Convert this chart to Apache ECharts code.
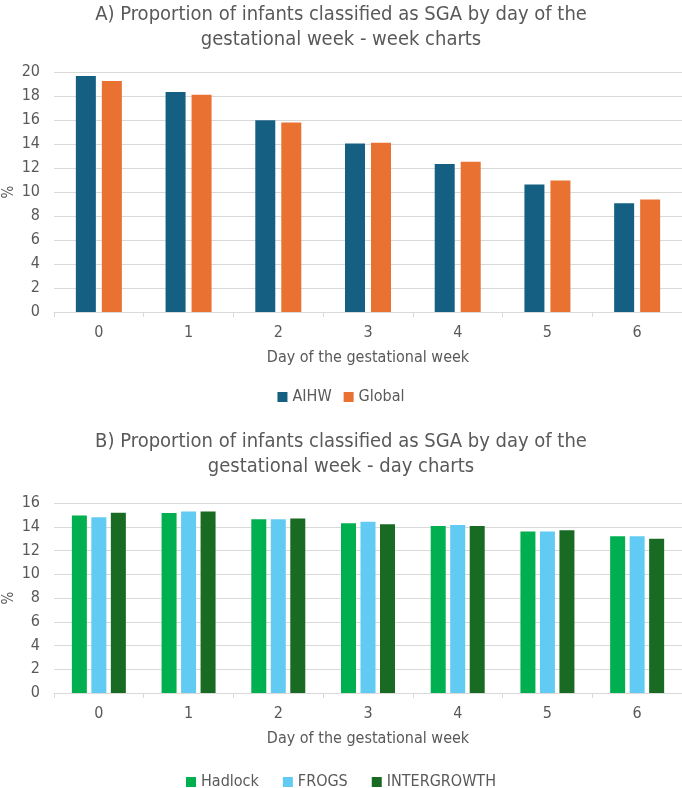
<!DOCTYPE html>
<html>
<head>
<meta charset="utf-8">
<script src="https://cdn.jsdelivr.net/npm/echarts@6/dist/echarts.min.js"></script>
<style>
  html, body { margin: 0; padding: 0; background: #fff; }
  #chart { width: 682px; height: 788px; }
</style>
</head>
<body>
<div id="chart"></div>
<script>
// data
const days = ['0', '1', '2', '3', '4', '5', '6'];

const aihw   = [19.66, 18.34, 15.97, 14.04, 12.33, 10.62, 9.07];
const global = [19.24, 18.10, 15.79, 14.10, 12.52, 10.96, 9.38];

const hadlock     = [14.95, 15.15, 14.64, 14.29, 14.07, 13.61, 13.21];
const frogs       = [14.81, 15.29, 14.64, 14.43, 14.15, 13.61, 13.21];
const intergrowth = [15.18, 15.28, 14.69, 14.21, 14.07, 13.70, 12.98];

const FONT = '"Liberation Sans Narrow", "DejaVu Sans Condensed", "Liberation Sans", sans-serif';
const TXT = '#595959';
const GRID = '#d9d9d9';

function xAxisFor(idx){
    return {
        type: 'category', gridIndex: idx, data: days,
        name: 'Day of the gestational week', nameLocation: 'middle', nameGap: 38,
        nameMoveOverlap: false,
        nameTextStyle: { color: TXT, fontFamily: FONT, fontSize: 16 },
        axisLine: { lineStyle: { color: GRID } },
        axisTick: { show: true, length: 5, lineStyle: { color: GRID } },
        axisLabel: { color: TXT, fontFamily: FONT, fontSize: 16, margin: 13 }
    };
}

function yAxisFor(idx, max){
    return {
        type: 'value', gridIndex: idx, min: 0, max: max, interval: 2,
        name: '%', nameLocation: 'middle', nameGap: 37, nameRotate: 90,
        nameMoveOverlap: false,
        nameTextStyle: { color: TXT, fontFamily: FONT, fontSize: 15 },
        axisLine: { show: false }, axisTick: { show: false },
        axisLabel: { color: TXT, fontFamily: FONT, fontSize: 16, margin: 14 },
        splitLine: { lineStyle: { color: GRID } }
    };
}

let chart = echarts.init(document.getElementById('chart'));

let option = {
    backgroundColor: '#fff',
    animation: false,
    title: [
        {
            text: 'A) Proportion of infants classified as SGA by day of the\ngestational week - week charts',
            left: 336, top: -3, textAlign: 'center',
            textStyle: { color: TXT, fontFamily: FONT, fontSize: 20, fontWeight: 'normal', lineHeight: 25 }
        },
        {
            text: 'B) Proportion of infants classified as SGA by day of the\ngestational week - day charts',
            left: 336, top: 424, textAlign: 'center',
            textStyle: { color: TXT, fontFamily: FONT, fontSize: 20, fontWeight: 'normal', lineHeight: 25 }
        }
    ],
    legend: [
        {
            data: ['AIHW', 'Global'], top: 384, left: 'center',
            itemWidth: 10, itemHeight: 10, itemGap: 12, icon: 'rect',
            textStyle: { color: TXT, fontFamily: FONT, fontSize: 16 }
        },
        {
            data: ['Hadlock', 'FROGS', 'INTERGROWTH'], top: 769, left: 'center',
            itemWidth: 10, itemHeight: 10, itemGap: 24, icon: 'rect',
            textStyle: { color: TXT, fontFamily: FONT, fontSize: 16 }
        }
    ],
    grid: [
        { left: 54, right: 0, top: 72, height: 240, outerBoundsMode: 'none' },
        { left: 54, right: 0, top: 503, height: 190, outerBoundsMode: 'none' }
    ],
    xAxis: [xAxisFor(0), xAxisFor(1)],
    yAxis: [yAxisFor(0, 20), yAxisFor(1, 16)],
    series: [
        { name: 'AIHW', type: 'bar', xAxisIndex: 0, yAxisIndex: 0, data: aihw,
          barWidth: 20, barGap: '30%', itemStyle: { color: '#156082' } },
        { name: 'Global', type: 'bar', xAxisIndex: 0, yAxisIndex: 0, data: global,
          barWidth: 20, barGap: '30%', itemStyle: { color: '#E97132' } },
        { name: 'Hadlock', type: 'bar', xAxisIndex: 1, yAxisIndex: 1, data: hadlock,
          barWidth: 15, barGap: '30%', itemStyle: { color: '#00B050' } },
        { name: 'FROGS', type: 'bar', xAxisIndex: 1, yAxisIndex: 1, data: frogs,
          barWidth: 15, barGap: '30%', itemStyle: { color: '#61CBF3' } },
        { name: 'INTERGROWTH', type: 'bar', xAxisIndex: 1, yAxisIndex: 1, data: intergrowth,
          barWidth: 15, barGap: '30%', itemStyle: { color: '#196B24' } }
    ]
};

option && chart.setOption(option);
</script>
</body>
</html>
